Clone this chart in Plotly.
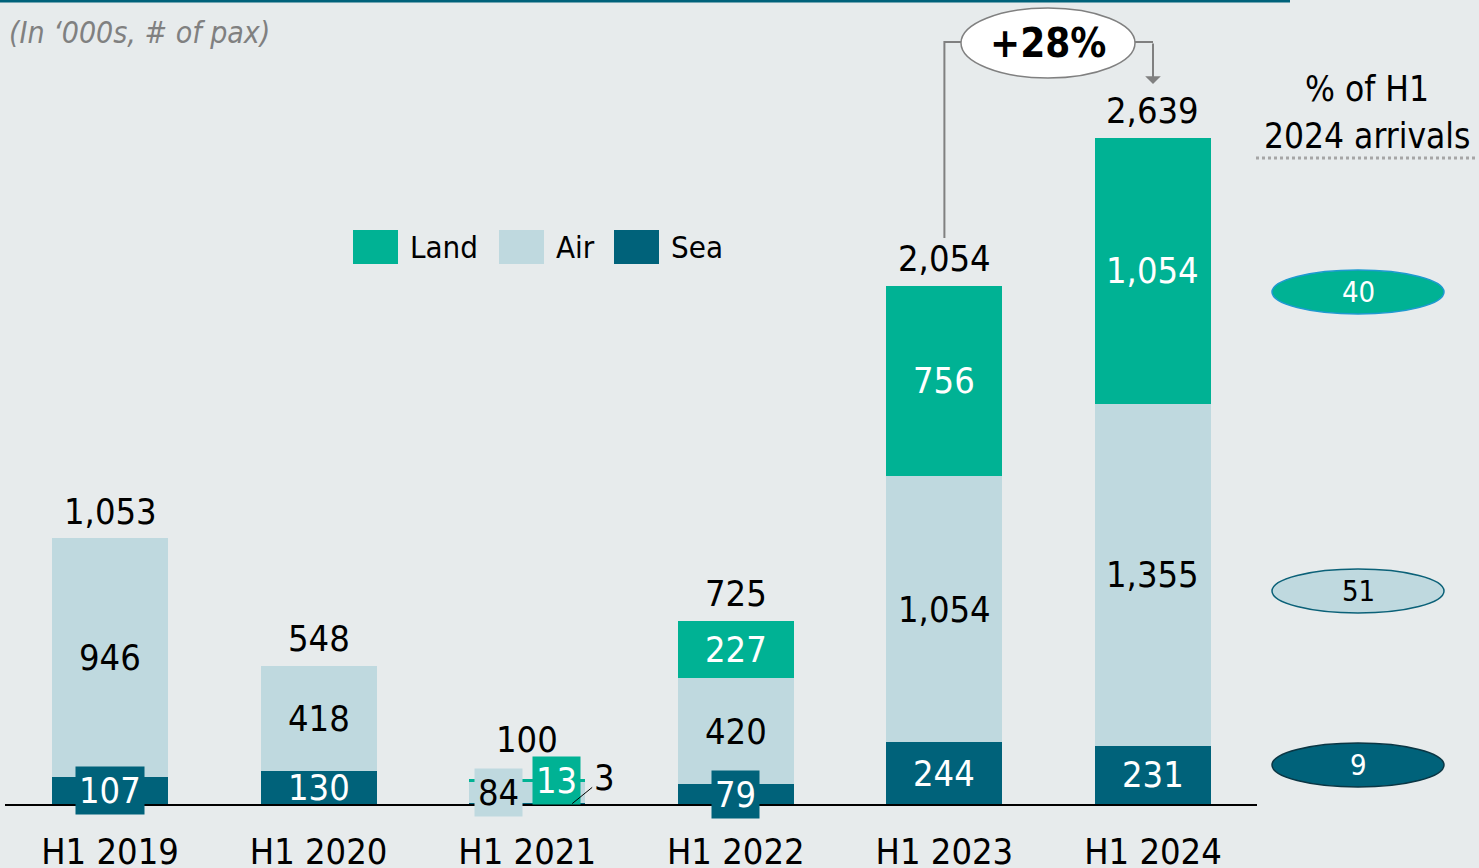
import plotly.graph_objects as go

# ---------------- data ----------------
categories = ["H1 2019", "H1 2020", "H1 2021", "H1 2022", "H1 2023", "H1 2024"]
sea = [107, 130, 3, 79, 244, 231]
air = [946, 418, 84, 420, 1054, 1355]
land = [0, 0, 13, 227, 756, 1054]
totals = [1053, 548, 100, 725, 2054, 2639]
share_names = ["Land", "Air", "Sea"]
share_values = [40, 51, 9]          # % of H1 2024 arrivals
growth_label = "+28%"               # H1 2023 -> H1 2024

# ---------------- style ----------------
C_LAND = "#00B294"
C_AIR = "#BFD9DF"
C_SEA = "#00627A"
BG = "#E7EBEC"
FONT = "DejaVu Sans Condensed, DejaVu Sans, sans-serif"
W, H = 1479, 868
L, R, T, B = 5, 222, 0, 64
PW, PH = W - L - R, H - T - B
YMAX = 3185


def px(p):
    return (p - L) / PW


def py(q):
    return (T + PH - q) / PH


fig = go.Figure()
for name, vals, col in [("Sea", sea, C_SEA), ("Air", air, C_AIR), ("Land", land, C_LAND)]:
    fig.add_trace(go.Bar(x=categories, y=vals, name=name, marker=dict(color=col, line=dict(width=0)),
                         width=0.556, showlegend=False, hoverinfo="x+y+name"))

ann = []
# totals
for i, c in enumerate(categories):
    ann.append(dict(x=c, y=totals[i], text=f"{totals[i]:,}", showarrow=False, yanchor="middle",
                    xanchor="center", yshift=39 if i == 2 else 27,
                    font=dict(size=36, color="black", family=FONT)))

# segment labels
for i, c in enumerate(categories):
    if i == 2:
        continue
    box = i in (0, 3)
    ann.append(dict(x=c, y=sea[i] / 2, text=str(sea[i]), showarrow=False, yanchor="middle", xanchor="center",
                    bgcolor=C_SEA if box else None, borderpad=3,
                    font=dict(size=36, color="white", family=FONT)))
    ann.append(dict(x=c, y=sea[i] + air[i] / 2, text=f"{air[i]:,}", showarrow=False, yanchor="middle",
                    xanchor="center", font=dict(size=36, color="black", family=FONT)))
    if land[i] > 0:
        ann.append(dict(x=c, y=sea[i] + air[i] + land[i] / 2, text=f"{land[i]:,}", showarrow=False,
                        yanchor="middle", xanchor="center", font=dict(size=36, color="white", family=FONT)))

# H1 2021 special labels
c = categories[2]
ann.append(dict(x=c, y=sea[2] + air[2] / 2, text=str(air[2]), showarrow=False, yanchor="middle",
                xanchor="center", xshift=-29, bgcolor=C_AIR, borderpad=3,
                font=dict(size=36, color="black", family=FONT)))
ann.append(dict(x=c, y=sea[2] + air[2] + land[2] / 2, text=str(land[2]), showarrow=False, yanchor="middle",
                xanchor="center", xshift=29, bgcolor=C_LAND, borderpad=3,
                font=dict(size=36, color="white", family=FONT)))
ann.append(dict(x=c, y=sea[2] / 2, text=str(sea[2]), showarrow=True, arrowhead=0, arrowwidth=1,
                arrowcolor="black", ax=32, ay=-26, xshift=45,
                font=dict(size=36, color="black", family=FONT)))

# subtitle
ann.append(dict(xref="paper", yref="paper", x=px(7), y=py(32), xanchor="left", yanchor="middle",
                text="<i>(In ‘000s, # of pax)</i>", showarrow=False,
                font=dict(size=30, color="#808080", family=FONT)))

# legend
leg_x = [353, 499, 614]
shapes = []
for (nm, col), lx in zip([("Land", C_LAND), ("Air", C_AIR), ("Sea", C_SEA)], leg_x):
    shapes.append(dict(type="rect", xref="paper", yref="paper", x0=px(lx), x1=px(lx + 45),
                       y0=py(264), y1=py(230), fillcolor=col, line=dict(width=0)))
    ann.append(dict(xref="paper", yref="paper", x=px(lx + 55), y=py(247), xanchor="left", yanchor="middle",
                    text=nm, showarrow=False, font=dict(size=31, color="black", family=FONT)))

# right header
ann.append(dict(xref="paper", yref="paper", x=px(1367), y=py(89), xanchor="center", yanchor="middle",
                text="% of H1", showarrow=False, font=dict(size=35, color="black", family=FONT)))
ann.append(dict(xref="paper", yref="paper", x=px(1367), y=py(136), xanchor="center", yanchor="middle",
                text="2024 arrivals", showarrow=False, font=dict(size=35, color="black", family=FONT)))
shapes.append(dict(type="line", xref="paper", yref="paper", x0=px(1256), x1=px(1475), y0=py(158), y1=py(158),
                   line=dict(color="#A6A6A6", width=3, dash="dot")))

# share ellipses
ell = [(292, C_LAND, "#1E9AD0", "white"), (591, C_AIR, "#0B6178", "black"), (765, C_SEA, "#0A3644", "white")]
for (cy, fill, border, tc), v in zip(ell, share_values):
    shapes.append(dict(type="circle", xref="paper", yref="paper", x0=px(1272), x1=px(1444),
                       y0=py(cy + 22), y1=py(cy - 22), fillcolor=fill, line=dict(color=border, width=1.5)))
    ann.append(dict(xref="paper", yref="paper", x=px(1358), y=py(cy), xanchor="center", yanchor="middle",
                    text=str(v), showarrow=False, font=dict(size=29, color=tc, family=FONT)))

# top rule
shapes.append(dict(type="line", xref="paper", yref="paper", x0=px(0), x1=px(1290), y0=py(1), y1=py(1),
                   line=dict(color=C_SEA, width=3)))

# growth bubble & connectors
GRAY = "#808080"
shapes.append(dict(type="path", xref="paper", yref="paper",
                   path=f"M {px(944.4)},{py(238)} L {px(944.4)},{py(42)} L {px(962)},{py(42)}",
                   line=dict(color=GRAY, width=2)))
shapes.append(dict(type="path", xref="paper", yref="paper",
                   path=f"M {px(1134)},{py(42)} L {px(1153)},{py(42)}",
                   line=dict(color=GRAY, width=2)))
shapes.append(dict(type="circle", xref="paper", yref="paper", x0=px(961), x1=px(1135), y0=py(78), y1=py(8),
                   fillcolor="white", line=dict(color=GRAY, width=1.5)))
ann.append(dict(xref="paper", yref="paper", x=px(1048), y=py(43), xanchor="center", yanchor="middle",
                text=f"<b>{growth_label}</b>", showarrow=False,
                font=dict(size=40, color="black", family=FONT)))
ann.append(dict(xref="paper", yref="paper", x=px(1153), y=py(84), text="", showarrow=True,
                arrowhead=1, arrowsize=1.3, arrowwidth=2, arrowcolor=GRAY, ax=0, ay=-42))

fig.update_layout(
    width=W, height=H, margin=dict(l=L, r=R, t=T, b=B, autoexpand=False),
    paper_bgcolor=BG, plot_bgcolor=BG, barmode="stack",
    annotations=ann, shapes=shapes, showlegend=False,
    xaxis=dict(type="category", range=[-0.5034, 5.4986], showline=True, linecolor="black", linewidth=2,
               ticks="outside", ticklen=15, tickcolor="rgba(0,0,0,0)", showgrid=False, zeroline=False,
               automargin=False, tickfont=dict(size=36, color="black", family=FONT)),
    yaxis=dict(range=[0, YMAX], visible=False, showgrid=False, automargin=False),
    font=dict(family=FONT),
)
fig.write_html("out.html", config={"displayModeBar": False},
               post_script="document.body.style.margin='0';document.body.style.padding='0';"
                           "document.body.style.overflow='hidden';")
